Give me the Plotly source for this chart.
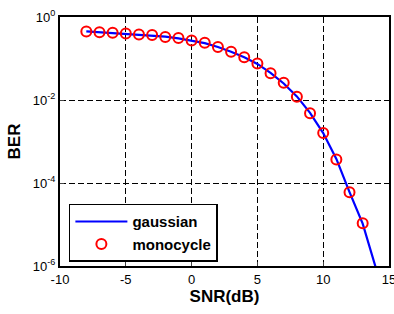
import plotly.graph_objects as go

snr_mono = [-8, -7, -6, -5, -4, -3, -2, -1, 0, 1, 2, 3, 4, 5, 6, 7, 8, 9, 10, 11, 12, 13]
ber_mono = [0.45, 0.43, 0.42, 0.40, 0.38, 0.37, 0.33, 0.31, 0.27, 0.24, 0.19, 0.146, 0.107,
            0.076, 0.044, 0.026, 0.012, 0.0048, 0.0016, 3.7e-4, 6.0e-5, 1.07e-5]
snr_gauss = [-8, -7, -6, -5, -4, -3, -2, -1, 0, 1, 2, 3, 4, 5, 6, 7, 8, 9, 10, 11, 12, 13, 14]
ber_gauss = [0.45, 0.43, 0.415, 0.40, 0.38, 0.36, 0.335, 0.305, 0.27, 0.235, 0.19, 0.146, 0.107,
             0.074, 0.045, 0.025, 0.0122, 0.0049, 0.0016, 3.8e-4, 6.0e-5, 1.05e-5, 9e-7]
x_ticks = [-10, -5, 0, 5, 10, 15]
x_ticktext = ["-10", "-5", "0", "5", "10", "15"]
y_ticks = [1e-6, 1e-4, 1e-2, 1]
y_ticktext = ["10<sup>-6</sup>", "10<sup>-4</sup>", "10<sup>-2</sup>", "10<sup>0</sup>"]

FONT = "Liberation Sans, Arial, sans-serif"

fig = go.Figure()
fig.add_trace(go.Scatter(x=snr_gauss, y=ber_gauss, mode="lines", name="gaussian",
                         line=dict(color="#0000ff", width=2.2)))
fig.add_trace(go.Scatter(x=snr_mono, y=ber_mono, mode="markers", name="monocycle",
                         marker=dict(symbol="circle-open", size=10, color="#ff0000",
                                     line=dict(width=2, color="#ff0000"))))

fig.update_layout(
    width=394, height=314,
    margin=dict(l=60, r=5, t=17, b=48),
    paper_bgcolor="white", plot_bgcolor="white",
    font=dict(family=FONT, size=13, color="black"),
    legend=dict(x=0.027, y=0.25, xanchor="left", yanchor="top",
                bgcolor="white", bordercolor="black", borderwidth=1.5,
                font=dict(size=15, family=FONT, weight="bold"),
                tracegroupgap=0, itemwidth=52),
    xaxis=dict(range=[-10, 15], tickvals=x_ticks, ticktext=x_ticktext, showgrid=True,
               gridcolor="black", griddash="6px,3px", gridwidth=1, zeroline=False,
               showline=True, linecolor="black", linewidth=2, mirror=True,
               ticks="inside", ticklen=4, automargin=False, ticklabeloverflow="allow",
               title=dict(text="<b>SNR(dB)</b>", standoff=5, font=dict(size=17))),
    yaxis=dict(type="log", range=[-6, 0], tickvals=y_ticks, ticktext=y_ticktext,
               showgrid=True, gridcolor="black", griddash="6px,3px", gridwidth=1,
               zeroline=False, showline=True, linecolor="black", linewidth=2, mirror=True,
               ticks="inside", ticklen=4, automargin=False, ticklabeloverflow="allow",
               title=dict(text="<b>BER</b>", standoff=8, font=dict(size=17))),
)
fig.write_html("out.html")
